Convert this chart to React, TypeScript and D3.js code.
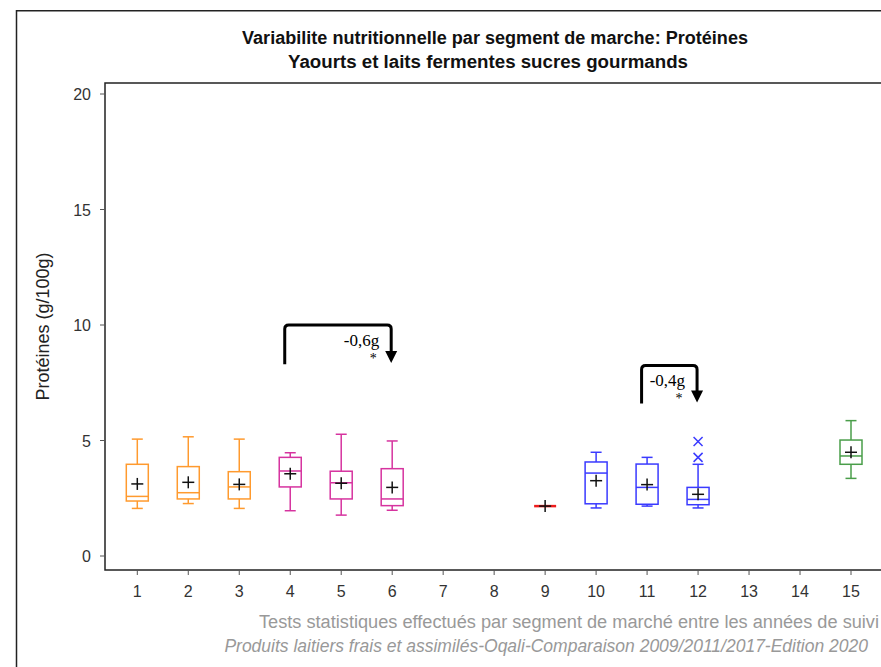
import React from "react";
import * as d3 from "d3";

const segments = [1, 2, 3, 4, 5, 6, 9, 10, 11, 12, 15];
const colors = ["#ff9a2e", "#ff9a2e", "#ff9a2e", "#d6339f", "#d6339f", "#d6339f", "#ee1c1c", "#3a3aff", "#3a3aff", "#3a3aff", "#4a9e4a"];
const whiskerLow = [2.06, 2.27, 2.06, 1.96, 1.77, 1.98, 2.16, 2.08, 2.16, 2.08, 3.36];
const q1 = [2.38, 2.47, 2.47, 2.99, 2.47, 2.18, 2.16, 2.26, 2.24, 2.22, 3.97];
const medians = [2.58, 2.74, 2.99, 3.68, 3.17, 2.47, 2.16, 3.59, 2.97, 2.45, 4.33];
const q3 = [3.97, 3.87, 3.65, 4.27, 3.67, 3.78, 2.16, 4.07, 3.98, 2.97, 5.02];
const whiskerHigh = [5.06, 5.16, 5.06, 4.47, 5.27, 4.98, 2.16, 4.49, 4.27, 3.97, 5.86];
const means = [3.12, 3.19, 3.1, 3.56, 3.15, 2.97, 2.16, 3.26, 3.09, 2.67, 4.49];
const outlierSeg = [12, 12];
const outlierVal = [4.96, 4.27];

const xTicks = d3.range(1, 16);
const yTicks = [0, 5, 10, 15, 20];

const brackets = [
  { from: 4, to: 6, top: 10.0, bottom: 8.3, arrowTip: 8.35, label: "-0,6g" },
  { from: 11, to: 12, top: 8.25, bottom: 6.6, arrowTip: 6.65, label: "-0,4g" },
];

export default function App() {
  const x = d3.scaleLinear().domain([1, 15]).range([137.3, 851]);
  const y = d3.scaleLinear().domain([0, 20]).range([556, 94]);
  const plotL = 105, plotT = 83, plotB = 570, plotR = 890;
  const bw = 22, cw = 11;
  const axisFont = "'Liberation Sans', Arial, sans-serif";

  return (
    <svg width={881} height={667} style={{ position: "absolute", left: 0, top: 0, background: "#fff" }}>
      <rect x={0} y={0} width={881} height={667} fill="#fff" />
      {/* outer frame */}
      <path d={`M900,10.7 H16.5 V700`} fill="none" stroke="#222" strokeWidth={1.5} />
      {/* titles */}
      <text x={495} y={44} textAnchor="middle" fontFamily={axisFont} fontWeight="bold" fontSize={17.5} fill="#111" textLength={506} lengthAdjust="spacingAndGlyphs">
        Variabilite nutritionnelle par segment de marche: Protéines
      </text>
      <text x={488} y={68} textAnchor="middle" fontFamily={axisFont} fontWeight="bold" fontSize={17.5} fill="#111" textLength={400} lengthAdjust="spacingAndGlyphs">
        Yaourts et laits fermentes sucres gourmands
      </text>
      {/* plot frame */}
      <rect x={plotL} y={plotT} width={plotR - plotL} height={plotB - plotT} fill="none" stroke="#222" strokeWidth={1.5} />
      {/* y ticks */}
      {yTicks.map((t) => (
        <g key={"y" + t}>
          <line x1={plotL - 5} x2={plotL} y1={y(t)} y2={y(t)} stroke="#555" strokeWidth={1} />
          <text x={plotL - 14} y={y(t) + 6} textAnchor="end" fontFamily={axisFont} fontSize={16} fill="#333">
            {t}
          </text>
        </g>
      ))}
      {/* x ticks */}
      {xTicks.map((t) => (
        <g key={"x" + t}>
          <line x1={x(t)} x2={x(t)} y1={plotB} y2={plotB + 5} stroke="#555" strokeWidth={1} />
          <text x={x(t)} y={597} textAnchor="middle" fontFamily={axisFont} fontSize={16} fill="#333">
            {t}
          </text>
        </g>
      ))}
      {/* y label */}
      <text
        transform={`translate(49,${(plotT + plotB) / 2}) rotate(-90)`}
        textAnchor="middle"
        fontFamily={axisFont}
        fontSize={18}
        fill="#222"
      >
        Protéines (g/100g)
      </text>
      {/* boxes */}
      {segments.map((s, i) => {
        const cx = x(s);
        const c = colors[i];
        const single = q1[i] === q3[i];
        return (
          <g key={"b" + s} stroke={c} strokeWidth={1.5} fill="none">
            {single ? (
              <line x1={cx - bw / 2} x2={cx + bw / 2} y1={y(medians[i])} y2={y(medians[i])} strokeWidth={2.5} />
            ) : (
              <>
                <line x1={cx} x2={cx} y1={y(q3[i])} y2={y(whiskerHigh[i])} />
                <line x1={cx} x2={cx} y1={y(q1[i])} y2={y(whiskerLow[i])} />
                <line x1={cx - cw / 2} x2={cx + cw / 2} y1={y(whiskerHigh[i])} y2={y(whiskerHigh[i])} />
                <line x1={cx - cw / 2} x2={cx + cw / 2} y1={y(whiskerLow[i])} y2={y(whiskerLow[i])} />
                <rect x={cx - bw / 2} y={y(q3[i])} width={bw} height={y(q1[i]) - y(q3[i])} />
                <line x1={cx - bw / 2} x2={cx + bw / 2} y1={y(medians[i])} y2={y(medians[i])} />
              </>
            )}
            <g stroke="#111" strokeWidth={1.5}>
              <line x1={cx - 6} x2={cx + 6} y1={y(means[i])} y2={y(means[i])} />
              <line x1={cx} x2={cx} y1={y(means[i]) - 6} y2={y(means[i]) + 6} />
            </g>
          </g>
        );
      })}
      {/* outliers */}
      {outlierSeg.map((s, i) => {
        const cx = x(s), cy = y(outlierVal[i]);
        return (
          <g key={"o" + i} stroke="#3a3aff" strokeWidth={1.5}>
            <line x1={cx - 4.5} x2={cx + 4.5} y1={cy - 4.5} y2={cy + 4.5} />
            <line x1={cx - 4.5} x2={cx + 4.5} y1={cy + 4.5} y2={cy - 4.5} />
          </g>
        );
      })}
      {/* significance brackets */}
      {brackets.map((b, i) => {
        const x1 = x(b.from) - 5.5;
        const x2 = x(b.to) - 1;
        const yt = y(b.top);
        const yb = y(b.bottom);
        const tip = y(b.arrowTip);
        const r = 4;
        return (
          <g key={"br" + i}>
            <path
              d={`M${x1},${yb} V${yt + r} Q${x1},${yt} ${x1 + r},${yt} H${x2 - r} Q${x2},${yt} ${x2},${yt + r} V${tip - 10}`}
              fill="none"
              stroke="#000"
              strokeWidth={3}
            />
            <path d={`M${x2 - 6},${tip - 12} H${x2 + 6} L${x2},${tip} Z`} fill="#000" />
            <text x={x2 - 12} y={yt + 21} textAnchor="end" fontFamily="'Liberation Serif', 'DejaVu Serif', serif" fontSize={17} fill="#000">
              {b.label}
            </text>
            <text x={x2 - 18} y={yt + 38} textAnchor="middle" fontFamily="'Liberation Serif', serif" fontSize={14} fill="#000">
              *
            </text>
          </g>
        );
      })}
      {/* footer */}
      <text x={879} y={628} textAnchor="end" fontFamily={axisFont} fontSize={18} fill="#999" textLength={620} lengthAdjust="spacingAndGlyphs">
        Tests statistiques effectués par segment de marché entre les années de suivi
      </text>
      <text x={868} y={652} textAnchor="end" fontFamily={axisFont} fontStyle="italic" fontSize={17.5} fill="#999">
        Produits laitiers frais et assimilés-Oqali-Comparaison 2009/2011/2017-Edition 2020
      </text>
    </svg>
  );
}
